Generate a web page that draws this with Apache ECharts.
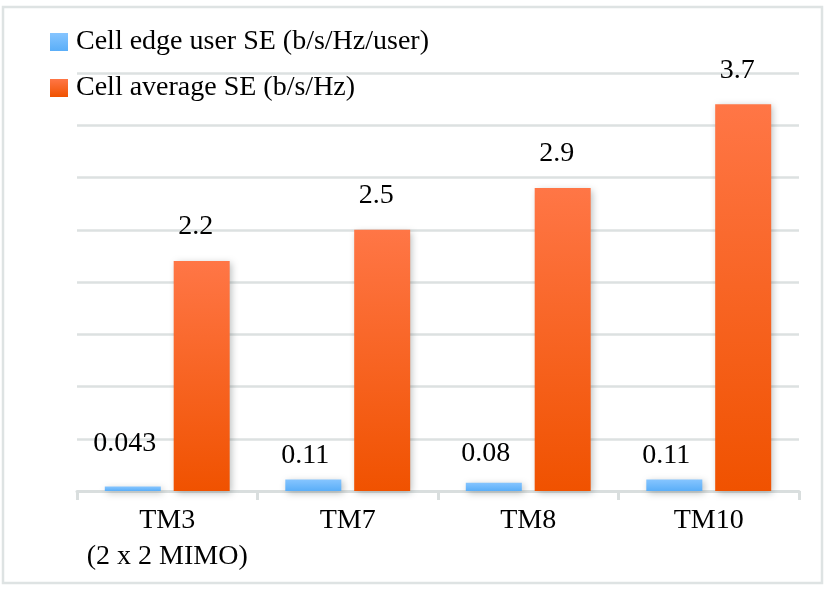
<!DOCTYPE html>
<html>
<head>
<meta charset="utf-8">
<script src="https://cdn.jsdelivr.net/npm/echarts@6/dist/echarts.min.js"></script>
<style>
html,body{margin:0;padding:0;background:#fff;}
#chart{width:830px;height:602px;}
</style>
</head>
<body>
<div id="chart"></div>
<script>
const categories = ['TM3\n(2 x 2 MIMO)', 'TM7', 'TM8', 'TM10'];
const edgeSE = [0.043, 0.11, 0.08, 0.11];
const averageSE = [2.2, 2.5, 2.9, 3.7];
const seriesNames = ['Cell edge user SE (b/s/Hz/user)', 'Cell average SE (b/s/Hz)'];
const edgeLabelDistance = [29, 10, 15, 10];

const FONT = '"Liberation Serif", "Times New Roman", serif';
const chart = echarts.init(document.getElementById('chart'));

const grad = (top, bottom) => new echarts.graphic.LinearGradient(0, 0, 0, 1, [
  {offset: 0, color: top}, {offset: 1, color: bottom}
]);
const shadow = {shadowColor: 'rgba(60,70,70,0.35)', shadowBlur: 7, shadowOffsetX: 2, shadowOffsetY: 2};

chart.setOption({
  animation: false,
  backgroundColor: '#fff',
  graphic: [{
    type: 'rect',
    shape: {x: 3, y: 7, width: 819, height: 576},
    style: {fill: 'none', stroke: '#DEE3E3', lineWidth: 2.5},
    z: -10
  }],
  legend: {
    orient: 'vertical',
    left: 45,
    top: 23,
    itemWidth: 18,
    itemHeight: 18,
    itemGap: 18,
    icon: 'rect',
    textStyle: {fontFamily: FONT, fontSize: 28, color: '#000', lineHeight: 28, padding: [0, 0, 0, 3]}
  },
  grid: {left: 77, right: 31, top: 73, bottom: 111},
  xAxis: {
    type: 'category',
    data: categories,
    axisLine: {lineStyle: {color: '#D9DEDE', width: 3}},
    axisTick: {show: true, interval: 0, length: 9, lineStyle: {color: '#D9DEDE', width: 3}},
    axisLabel: {interval: 0, fontFamily: FONT, fontSize: 28, color: '#000', lineHeight: 36, margin: 12, offset: [-4, 0]}
  },
  yAxis: {
    type: 'value',
    min: 0,
    max: 4,
    interval: 0.5,
    axisLine: {show: false},
    axisTick: {show: false},
    axisLabel: {show: false},
    splitLine: {lineStyle: {color: '#DCE1E1', width: 2.5}}
  },
  series: [
    {
      name: seriesNames[0],
      type: 'bar',
      barWidth: 56,
      barGap: '23%',
      data: edgeSE.map((v, i) => ({
        value: v,
        label: {distance: edgeLabelDistance[i]}
      })),
      itemStyle: Object.assign({color: grad('#86C5FF', '#5AAEF8')}, shadow),
      label: {
        show: true, position: 'top', offset: [-8, 0],
        fontFamily: FONT, fontSize: 28, color: '#000'
      }
    },
    {
      name: seriesNames[1],
      type: 'bar',
      barWidth: 56,
      data: averageSE,
      itemStyle: Object.assign({color: grad('#FF7646', '#F05200')}, shadow),
      label: {
        show: true, position: 'top', distance: 20, offset: [-6, 0],
        fontFamily: FONT, fontSize: 28, color: '#000'
      }
    }
  ]
});
</script>
</body>
</html>
